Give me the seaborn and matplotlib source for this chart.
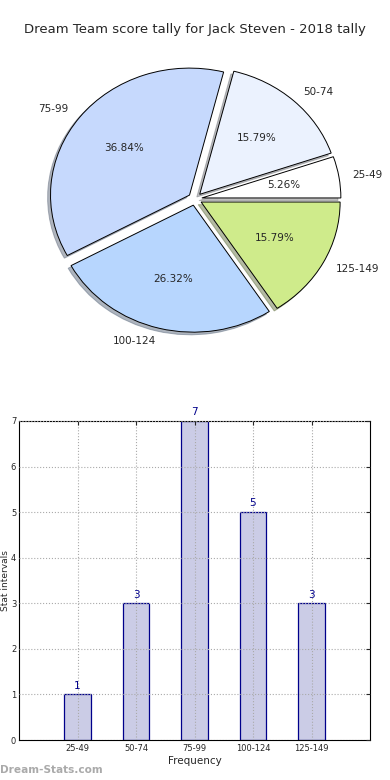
import matplotlib
matplotlib.use("Agg")
import matplotlib.pyplot as plt
import seaborn as sns
import pandas as pd

# dane
intervals = ["25-49", "50-74", "75-99", "100-124", "125-149"]
counts = [1, 3, 7, 5, 3]
pie_colors = ["#ffffff", "#ebf2fe", "#c6d9fd", "#b7d6fe", "#cfeb8b"]

title = "Dream Team score tally for Jack Steven - 2018 tally"

sns.set_style("white")
plt.rcParams["font.family"] = ["DejaVu Sans"]

fig = plt.figure(figsize=(3.9, 7.8), dpi=100)

# ---- tytul ----
fig.text(0.5, 1 - 30 / 780, title, ha="center", va="center", fontsize=9.5)

# ---- WYKRES 1: kolowy ----
# os od 0 do 390 px w poziomie, 49-349 px w pionie (elipsa jak w starym matplotlib)
ax1 = fig.add_axes([0.0, 1 - 349 / 780, 1.0, 300 / 780])
wedges, texts, autotexts = ax1.pie(
    counts,
    labels=intervals,
    colors=pie_colors,
    explode=[0.05] * len(counts),
    autopct="%.2f%%",
    shadow={"ox": -0.015, "oy": -0.015, "shade": 0.5},
    startangle=0,
    labeldistance=1.1,
    pctdistance=0.6,
    wedgeprops={"edgecolor": "black", "linewidth": 0.7},
    textprops={"fontsize": 7.5},
)
ax1.set_aspect("auto")
ax1.set_xlim(-195 / 139, 195 / 139)
ax1.set_ylim(-150 / 127, 150 / 127)
ax1.axis("off")

# ---- WYKRES 2: slupkowy ----
ax2 = fig.add_axes([19 / 390, 40 / 780, 351 / 390, 319 / 780])
df = pd.DataFrame({"interval": intervals, "count": counts})
sns.barplot(
    data=df,
    x="interval",
    y="count",
    color="#cbcce6",
    edgecolor="#00008b",
    linewidth=0.9,
    width=0.45,
    saturation=1,
    ax=ax2,
)
ax2.set_xlim(-1, 5)
ax2.set_ylim(0, 7)
ax2.set_yticks(range(0, 8))
for i, c in enumerate(counts):
    ax2.text(i, c + 0.08, str(c), ha="center", va="bottom",
             fontsize=7.5, color="#00008b")
ax2.grid(True, linestyle=":", color="#aaaaaa", linewidth=0.8)
ax2.set_axisbelow(False)
for sp in ax2.spines.values():
    sp.set_visible(True)
    sp.set_color("black")
    sp.set_linewidth(0.8)
ax2.tick_params(axis="both", labelsize=6, direction="in", length=3,
                top=True, right=True, pad=3)
ax2.tick_params(axis="y", pad=2)
ax2.set_xlabel("Frequency", fontsize=7.5, labelpad=2)
ax2.set_ylabel("Stat intervals", fontsize=6.5, ha="center", va="center")
ax2.yaxis.set_label_coords(-0.0385, 0.5)

# znak wodny
fig.text(0.0, 1 - 770 / 780, "Dream-Stats.com", ha="left", va="center",
         fontsize=7.6, color="#aaaaaa", fontweight="bold")

fig.savefig("out.png", dpi=100)
plt.close(fig)
